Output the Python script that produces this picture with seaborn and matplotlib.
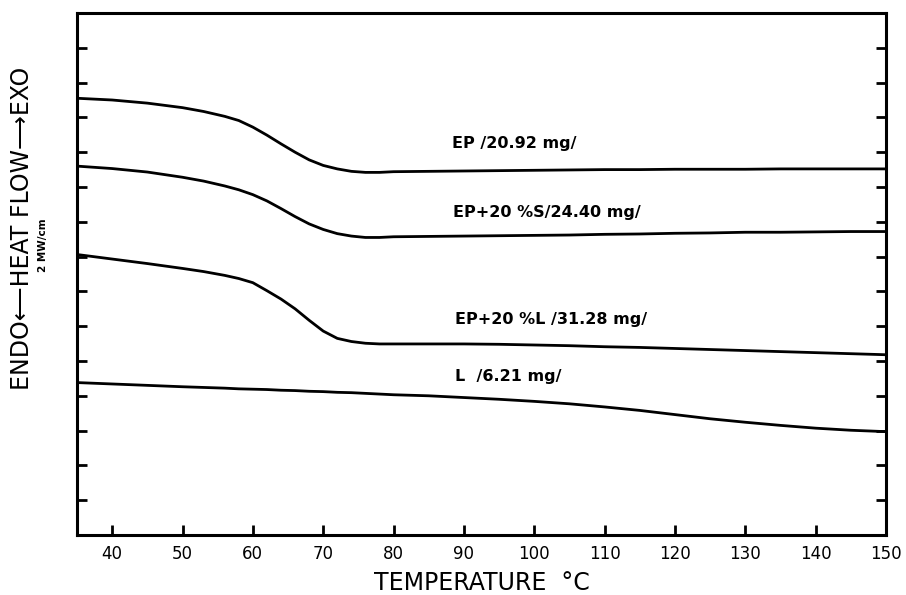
import matplotlib
matplotlib.use("Agg")
import matplotlib.pyplot as plt
import seaborn as sns
import pandas as pd

# Temperatures (°C) at which each DSC trace is sampled
temperature = [35, 40, 45, 50, 53, 56, 58, 60, 62, 64, 66, 68, 70, 72, 74, 76,
               78, 80, 85, 90, 95, 100, 105, 110, 115, 120, 125, 130, 135,
               140, 145, 150]

# Heat flow traces (arbitrary offset units, 2 mW/cm per division)
ep = [12.55, 12.50, 12.41, 12.28, 12.17, 12.03, 11.91, 11.72, 11.49, 11.24,
      11.00, 10.78, 10.62, 10.52, 10.45, 10.42, 10.42, 10.44, 10.45, 10.46,
      10.47, 10.48, 10.49, 10.50, 10.50, 10.51, 10.51, 10.51, 10.52, 10.52,
      10.52, 10.52]
ep_s = [10.60, 10.53, 10.43, 10.28, 10.17, 10.03, 9.92, 9.78, 9.60, 9.38,
        9.15, 8.94, 8.78, 8.66, 8.59, 8.55, 8.55, 8.57, 8.58, 8.59,
        8.60, 8.61, 8.62, 8.64, 8.65, 8.67, 8.68, 8.70, 8.70, 8.71,
        8.72, 8.72]
ep_l = [8.06, 7.93, 7.80, 7.66, 7.57, 7.46, 7.37, 7.25, 7.02, 6.78,
        6.50, 6.17, 5.86, 5.65, 5.56, 5.51, 5.49, 5.49, 5.49, 5.49,
        5.48, 5.46, 5.44, 5.41, 5.39, 5.36, 5.33, 5.30, 5.27, 5.24,
        5.21, 5.18]
lig = [4.38, 4.34, 4.30, 4.26, 4.24, 4.22, 4.20, 4.19, 4.18, 4.16,
       4.15, 4.13, 4.12, 4.10, 4.09, 4.07, 4.05, 4.03, 4.00, 3.95,
       3.90, 3.84, 3.77, 3.68, 3.58, 3.46, 3.34, 3.24, 3.15, 3.07,
       3.01, 2.97]

series_names = ["EP /20.92 mg/", "EP+20 %S/24.40 mg/",
                "EP+20 %L /31.28 mg/", "L  /6.21 mg/"]
series_values = [ep, ep_s, ep_l, lig]
label_x = [88.3, 88.4, 88.7, 88.7]
label_y = [11.26, 9.27, 6.19, 4.55]

x_ticks = [40, 50, 60, 70, 80, 90, 100, 110, 120, 130, 140, 150]

frames = []
for name, vals in zip(series_names, series_values):
    frames.append(pd.DataFrame({"T": temperature, "Q": vals, "sample": name}))
df = pd.concat(frames, ignore_index=True)

sns.set_theme(style="ticks")
plt.rcParams["font.family"] = ["DejaVu Sans"]
plt.rcParams["text.color"] = "black"
plt.rcParams["axes.labelcolor"] = "black"
plt.rcParams["xtick.color"] = "black"
plt.rcParams["ytick.color"] = "black"

fig = plt.figure(figsize=(9.06, 5.95), dpi=100)
ax = fig.add_axes([77 / 906, 60 / 595, 809 / 906, 522 / 595])

sns.lineplot(data=df, x="T", y="Q", hue="sample", units="sample",
             estimator=None, palette=["black"] * 4, linewidth=2.0,
             legend=False, ax=ax)

for name, tx, ty in zip(series_names, label_x, label_y):
    ax.text(tx, ty, name, fontsize=11.5, fontweight="bold", ha="left",
            va="center", color="black")

ax.set_xlim(35, 150)
ax.set_ylim(0, 15)
ax.set_xticks(x_ticks)
ax.set_xticklabels([str(t) for t in x_ticks], fontsize=12)
ax.set_yticks(range(1, 15))
ax.set_yticklabels([])
ax.tick_params(axis="both", direction="in", length=7, width=2,
               colors="black", pad=7)
ax.tick_params(axis="y", left=True, right=True)
ax.tick_params(axis="x", top=False)
for side in ["left", "right", "top", "bottom"]:
    ax.spines[side].set_visible(True)
    ax.spines[side].set_linewidth(2.2)
    ax.spines[side].set_color("black")

ax.set_xlabel("")
ax.set_ylabel("")
fig.text(482 / 906, 1 - 583 / 595, "TEMPERATURE  °C", fontsize=17,
         ha="center", va="center")
fig.text(22 / 906, 1 - 228 / 595, "ENDO⟵HEAT FLOW⟶EXO", fontsize=17,
         rotation=90, ha="center", va="center")
fig.text(43 / 906, 1 - 245 / 595, "2 MW/cm", fontsize=7.5, fontweight="bold",
         rotation=90, ha="center", va="center")

fig.savefig("out.png", dpi=100, facecolor="white")
